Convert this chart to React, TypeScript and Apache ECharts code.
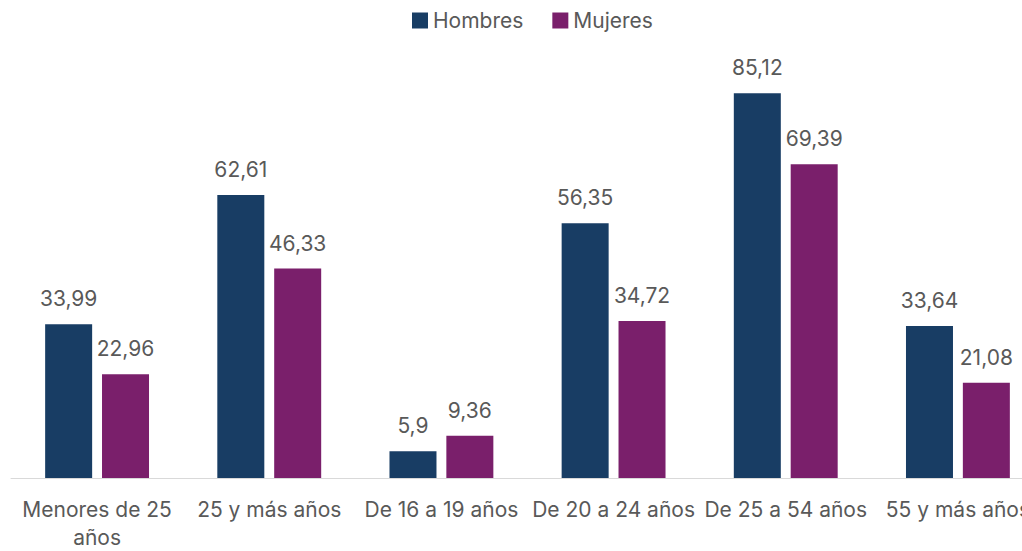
import React, { useEffect, useRef } from "react";
import * as echarts from "echarts";

const categories = [
  "Menores de 25 años",
  "25 y más años",
  "De 16 a 19 años",
  "De 20 a 24 años",
  "De 25 a 54 años",
  "55 y más años",
];
const hombres = [33.99, 62.61, 5.9, 56.35, 85.12, 33.64];
const mujeres = [22.96, 46.33, 9.36, 34.72, 69.39, 21.08];
const seriesNames = ["Hombres", "Mujeres"];

const FONT = "Inter";
const TEXT = "#595959";

const fmt = (v: number) => String(v).replace(".", ",");
const wrap = (s: string) => {
  if (s.length <= 16) return s;
  const i = s.lastIndexOf(" ");
  return s.slice(0, i) + "\n" + s.slice(i + 1);
};

export default function App() {
  const ref = useRef<HTMLDivElement>(null);
  useEffect(() => {
    if (!ref.current) return;
    const chart = echarts.init(ref.current, null, { renderer: "svg" });
    const label = {
      show: true,
      position: "top" as const,
      distance: 15,
      color: TEXT,
      fontFamily: FONT,
      fontSize: 21,
      formatter: (p: any) => fmt(p.value),
    };
    chart.setOption({
      animation: false,
      backgroundColor: "#ffffff",
      textStyle: { fontFamily: FONT },
      legend: {
        data: seriesNames,
        left: 407,
        top: 5,
        itemWidth: 16,
        itemHeight: 16,
        itemGap: 29,
        icon: "rect",
        textStyle: { color: TEXT, fontFamily: FONT, fontSize: 21, padding: [0, 0, 0, 0] },
      },
      grid: { left: 11, top: 26, width: 1033, height: 455 },
      xAxis: {
        type: "category",
        data: categories,
        axisLine: { lineStyle: { color: "#d9d9d9", width: 1 } },
        axisTick: { show: false },
        axisLabel: {
          interval: 0,
          margin: 17,
          color: TEXT,
          fontFamily: FONT,
          fontSize: 21,
          lineHeight: 28,
          formatter: (v: string) => wrap(v),
        },
      },
      yAxis: {
        type: "value",
        min: 0,
        max: 100,
        show: false,
        splitLine: { show: false },
      },
      series: [
        {
          name: seriesNames[0],
          type: "bar",
          data: hombres,
          barWidth: 47,
          barGap: "21%",
          itemStyle: { color: "#183d64" },
          label,
        },
        {
          name: seriesNames[1],
          type: "bar",
          data: mujeres,
          barWidth: 47,
          itemStyle: { color: "#7a1f6b" },
          label,
        },
      ],
    });
    return () => chart.dispose();
  }, []);
  return (
    <div
      style={{ position: "fixed", left: 0, top: 0, width: 1022, height: 551, overflow: "hidden", background: "#fff" }}
    >
      <div ref={ref} style={{ width: 1060, height: 551 }} />
    </div>
  );
}
